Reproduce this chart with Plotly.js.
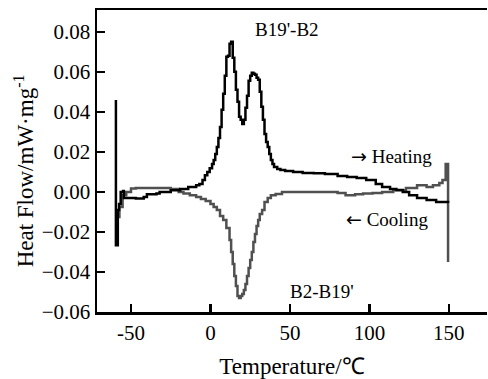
<!DOCTYPE html>
<html>
<head>
<meta charset="utf-8">
<script src="https://cdn.plot.ly/plotly-3.0.1.min.js"></script>
<style>
html,body{margin:0;padding:0;background:#fff;}
#chart{width:488px;height:379px;}
</style>
</head>
<body>
<div id="chart"></div>
<script>
// Heating curve (black): temperature (°C) and heat flow (mW/mg)
const heatT = [-59.5, -59.5, -58.5, -58.3, -57.5, -56.5, -55, -54.5, -47, -42, -40, -34, -32, -25, -19, -14, -9, -7, -5, -3.5, -2, -0.5, 1, 2, 3, 4, 5, 6, 7, 8, 9, 10, 11, 12, 13, 14, 15, 16, 17, 18, 19, 20, 21, 22, 23, 24, 25, 26, 27, 28, 29, 30, 31, 32, 33, 34, 35, 36, 37, 38, 39, 40, 42, 44, 47, 52, 58, 65, 72, 80, 86, 92, 98, 104, 108, 113, 117, 121, 125, 130, 136, 142, 149.5];
const heatQ = [0.0459, -0.0267, -0.0267, -0.009, -0.006, 0.0, 0.0005, -0.003, -0.0033, -0.0025, -0.0012, -0.0008, 0.0, 0.0008, 0.0015, 0.0025, 0.0033, 0.004, 0.006, 0.0083, 0.010, 0.0118, 0.014, 0.016, 0.019, 0.0225, 0.027, 0.0325, 0.041, 0.049, 0.058, 0.0675, 0.068, 0.074, 0.075, 0.067, 0.06, 0.051, 0.045, 0.0375, 0.036, 0.034, 0.036, 0.042, 0.048, 0.0555, 0.058, 0.0595, 0.059, 0.0585, 0.057, 0.056, 0.05, 0.0425, 0.036, 0.029, 0.025, 0.0225, 0.019, 0.016, 0.014, 0.0125, 0.0115, 0.011, 0.0105, 0.010, 0.0095, 0.0093, 0.009, 0.008, 0.0075, 0.007, 0.006, 0.004, 0.0025, 0.0015, 0.001, 0.0, -0.0017, -0.003, -0.004, -0.005, -0.0055];

// Cooling curve (gray)
const coolT = [149.5, 149.5, 148, 146, 144, 140, 136, 130, 123, 115, 108, 102, 96, 91, 85, 80, 70, 60, 50, 45, 41, 38, 36, 34, 32.5, 31, 30, 29, 28, 27, 26, 25, 24, 23, 22, 21, 20, 19, 18, 17, 16, 15, 14, 13, 12, 10, 8, 6, 4, 2, 0, -3, -6, -9, -13, -17, -20, -25, -32, -40, -47, -50, -53, -55.3, -57.3, -58.5, -59];
const coolQ = [-0.035, 0.014, 0.006, 0.0045, 0.0033, 0.0025, 0.0033, 0.002, 0.0008, 0.0, -0.0005, -0.0008, -0.0012, -0.0017, -0.0005, 0.0, 0.0, 0.0, 0.0, -0.001, -0.0017, -0.003, -0.005, -0.009, -0.011, -0.014, -0.017, -0.021, -0.025, -0.03, -0.034, -0.038, -0.042, -0.046, -0.049, -0.051, -0.052, -0.053, -0.052, -0.047, -0.042, -0.036, -0.03, -0.024, -0.018, -0.014, -0.012, -0.009, -0.0075, -0.006, -0.0045, -0.0035, -0.0025, -0.0017, -0.0008, 0.0, 0.0015, 0.002, 0.002, 0.002, 0.0017, 0.0, -0.0017, -0.0075, -0.0125, -0.02, -0.026];

const xTicks = [-50, 0, 50, 100, 150];
const yTicks = [-0.06, -0.04, -0.02, 0.00, 0.02, 0.04, 0.06, 0.08];

const ARROW = "<span style=\"font-family:'DejaVu Sans'\">";
const labels = ["B19'-B2", ARROW + "→</span> Heating", ARROW + "←</span> Cooling", "B2-B19'"];
const labelX = [48, 114, 111, 70];
const labelY = [0.081, 0.0179, -0.0137, -0.050];

const FONT = "Liberation Serif, Times New Roman, serif";

const traces = [
  {x: coolT, y: coolQ, type: 'scatter', mode: 'lines', line: {color: '#505050', width: 2.5, shape: 'hv'}, hoverinfo: 'skip'},
  {x: heatT, y: heatQ, type: 'scatter', mode: 'lines', line: {color: '#000000', width: 2.5, shape: 'hv'}, hoverinfo: 'skip'}
];

const annotations = labels.map((t, i) => ({
  text: t, x: labelX[i], y: labelY[i], xref: 'x', yref: 'y',
  showarrow: false, font: {family: FONT, size: 19, color: '#000'},
  xanchor: 'center', yanchor: 'middle'
}));
annotations.push({
  text: 'Heat Flow/mW·mg<sup>-1</sup>', xref: 'paper', yref: 'paper',
  x: -0.187, y: 0.466, textangle: -90, showarrow: false,
  xanchor: 'center', yanchor: 'middle',
  font: {family: FONT, size: 23, color: '#000'}
});

const layout = {
  width: 488, height: 379,
  margin: {l: 97, r: 1, t: 10, b: 67},
  paper_bgcolor: '#fff', plot_bgcolor: '#fff',
  showlegend: false,
  font: {family: FONT, color: '#000', size: 20},
  xaxis: {
    range: [-71.4, 174], tickvals: xTicks, ticktext: xTicks.map(String),
    ticks: 'inside', ticklen: 8, tickwidth: 2.5, tickcolor: '#000',
    showline: true, linewidth: 2.5, linecolor: '#000', mirror: true,
    showgrid: false, zeroline: false,
    tickfont: {family: FONT, size: 21, color: '#000'},
    title: {text: 'Temperature/℃', font: {family: FONT, size: 23, color: '#000'}, standoff: 18}
  },
  yaxis: {
    range: [-0.06, 0.0909], tickvals: yTicks, tickformat: '.2f',
    ticks: 'inside', ticklen: 8, tickwidth: 2.5, tickcolor: '#000',
    showline: true, linewidth: 2.5, linecolor: '#000',
    showgrid: false, zeroline: false,
    tickfont: {family: FONT, size: 21, color: '#000'}
  },
  annotations: annotations
};

Plotly.newPlot('chart', traces, layout, {displayModeBar: false, staticPlot: true});
</script>
</body>
</html>
